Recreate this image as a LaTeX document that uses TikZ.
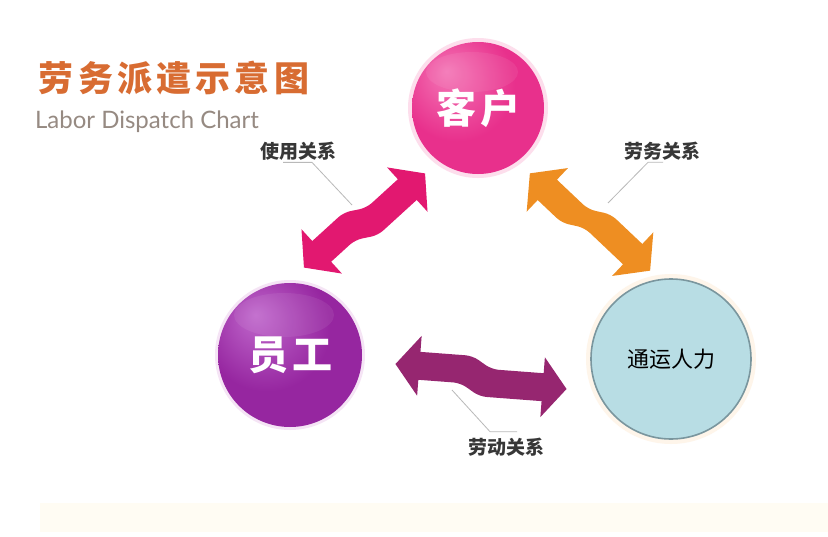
\documentclass[tikz,border=0pt]{standalone}
\usepackage{fontspec}
\usepackage{tikz}
\usetikzlibrary{calc,shapes}
\newfontfamily\cjk{Noto Sans CJK SC}
\newfontfamily\latinsans{Lato}

\definecolor{titleOrange}{RGB}{216,108,50}
\definecolor{subGray}{RGB}{150,138,130}
\definecolor{labelGray}{RGB}{55,55,55}
\definecolor{leaderGray}{RGB}{185,185,185}
\definecolor{useMagenta}{RGB}{226,24,112}
\definecolor{wuOrange}{RGB}{238,142,34}
\definecolor{dongPurple}{RGB}{150,38,112}
\definecolor{kehuLight}{RGB}{244,118,182}
\definecolor{kehuMid}{RGB}{232,48,140}
\definecolor{kehuDark}{RGB}{204,20,114}
\definecolor{kehuGlow}{RGB}{253,222,236}
\definecolor{ygLight}{RGB}{192,104,204}
\definecolor{ygMid}{RGB}{150,38,160}
\definecolor{ygDark}{RGB}{112,16,122}
\definecolor{ygGlow}{RGB}{245,228,245}
\definecolor{tongFill}{RGB}{184,221,228}
\definecolor{tongLine}{RGB}{122,150,158}
\definecolor{tongGlow}{RGB}{254,245,234}
\definecolor{stripCream}{RGB}{255,252,243}

\pgfdeclareradialshading{kehuShade}{\pgfpoint{-12bp}{14bp}}{color(0bp)=(kehuLight);
  color(22bp)=(kehuMid); color(46bp)=(kehuMid); color(66bp)=(kehuDark)}
\pgfdeclareradialshading{ygShade}{\pgfpoint{-12bp}{14bp}}{color(0bp)=(ygLight);
  color(22bp)=(ygMid); color(46bp)=(ygMid); color(66bp)=(ygDark)}

\tikzstyle{ball} = [circle, text=white, inner sep=0pt,
  font=\cjk\bfseries\fontsize{40}{40}\selectfont\addfontfeature{LetterSpace=10}]
\tikzstyle{relLabel} = [text=labelGray, inner sep=2pt,
  font=\cjk\bfseries\fontsize{19}{19}\selectfont]
\tikzstyle{leader} = [draw=leaderGray, line width=0.8pt]
\tikzstyle{gloss} = [white, opacity=0.07]

% zigzag double arrow: #1 tail, #2 head, #3 colour, #4 side step
\newcommand{\zigArrow}[4]{%
  \pgfmathsetmacro\zUp{#4+30}\pgfmathsetmacro\zUs{#4+14}%
  \pgfmathsetmacro\zDs{#4-14}\pgfmathsetmacro\zDp{#4-30}%
  \pgfmathsetmacro\zUpB{-(#4)+30}\pgfmathsetmacro\zUsB{-(#4)+14}%
  \pgfmathsetmacro\zDsB{-(#4)-14}\pgfmathsetmacro\zDpB{-(#4)-30}%
  \pgfmathsetmacro\zMid{-(#4)}%
  \fill[#3] ($(#1)!0pt!(#2)!#4pt!90:(#2)$)
    -- ($(#1)!24pt!(#2)!\zUp pt!90:(#2)$)
    -- ($(#1)!24pt!(#2)!\zUs pt!90:(#2)$)
    [rounded corners=7pt] -- ($(#1)!0.5!(#2)!-10pt!(#2)!\zUs pt!90:(#2)$)
    -- ($(#1)!0.5!(#2)!10pt!(#2)!\zUsB pt!90:(#2)$)
    [sharp corners] -- ($(#2)!24pt!(#1)!\zUsB pt!-90:(#1)$)
    -- ($(#2)!24pt!(#1)!\zUpB pt!-90:(#1)$)
    -- ($(#2)!0pt!(#1)!\zMid pt!-90:(#1)$)
    -- ($(#2)!24pt!(#1)!\zDpB pt!-90:(#1)$)
    -- ($(#2)!24pt!(#1)!\zDsB pt!-90:(#1)$)
    [rounded corners=7pt] -- ($(#1)!0.5!(#2)!0pt!(#2)!\zDsB pt!90:(#2)$)
    -- ($(#1)!0.5!(#2)!-20pt!(#2)!\zDs pt!90:(#2)$)
    [sharp corners] -- ($(#1)!24pt!(#2)!\zDs pt!90:(#2)$)
    -- ($(#1)!24pt!(#2)!\zDp pt!90:(#2)$)
    -- cycle;
}

\begin{document}
\begin{tikzpicture}[x=1pt,y=-1pt]

   \useasboundingbox[fill=white] (0,0) rectangle (828,536);

   % cream strip at the bottom
   \fill[stripCream] (40,503) rectangle (828,532);

   %% Title
   \node[text=titleOrange, inner sep=0pt,
         font=\cjk\bfseries\fontsize{35}{35}\selectfont\addfontfeature{LetterSpace=12}]
         (title) at (174,78) {劳务派遣示意图};
   \node[text=subGray, inner sep=0pt, font=\latinsans\fontsize{24}{24}\selectfont]
         (subtitle) at (147,122) {Labor Dispatch Chart};

   %% Balls
   \coordinate (kehuC) at (478,108);
   \coordinate (ygC) at (290,355);
   \coordinate (tongC) at (671,359);

   \fill[kehuGlow] (kehuC) circle (70pt);
   \fill[ygGlow] (ygC) circle (75pt);
   \fill[tongGlow] (tongC) circle (85pt);

   \node[ball, minimum size=132pt, shading=kehuShade] (kehu) at (kehuC) {客户};
   \node[ball, minimum size=144pt, shading=ygShade] (yuangong) at (ygC) {员工};
   \node[circle, minimum size=160pt, fill=tongFill, draw=tongLine, line width=1.6pt,
         font=\cjk\fontsize{22}{22}\selectfont] (tongyun) at (tongC) {通运人力};

   \fill[gloss] ($(kehu.center)+(-6,-36)$) ellipse (46pt and 20pt);
   \fill[gloss] ($(yuangong.center)+(-6,-40)$) ellipse (50pt and 22pt);

   %% Labels
   \node[relLabel] (useLbl) at (298,151) {使用关系};
   \node[relLabel] (wuLbl) at (662,151) {劳务关系};
   \node[relLabel] (dongLbl) at (506,447) {劳动关系};

   \coordinate (useHook) at (352,205);
   \coordinate (wuHook) at (608,203);
   \coordinate (dongHook) at (452,390);

   \draw[leader] ([xshift=-15pt]useLbl.south) -- ([xshift=14pt]useLbl.south) -- (useHook);
   \draw[leader] ([xshift=1pt]wuLbl.south) -- ([xshift=-14pt]wuLbl.south) -- (wuHook);
   \draw[leader] ([xshift=11pt,yshift=4pt]dongLbl.north)
        -- ([xshift=-16pt,yshift=4pt]dongLbl.north) -- (dongHook);

   %% Arrows
   \coordinate (useTail) at ($(yuangong.center)+(18,-83)$);
   \coordinate (useHead) at ($(kehu.center)+(-57,61)$);
   \coordinate (wuTail) at ($(kehu.center)+(56,61)$);
   \coordinate (wuHead) at ($(tongyun.center)+(-25,-84)$);
   \coordinate (dongTail) at ($(yuangong.center)+(105,15)$);
   \coordinate (dongHead) at ($(tongyun.center)+(-104,24)$);

   \zigArrow{useTail}{useHead}{useMagenta}{6}
   \zigArrow{wuTail}{wuHead}{wuOrange}{-6}
   \zigArrow{dongTail}{dongHead}{dongPurple}{6}

\end{tikzpicture}
\end{document}
